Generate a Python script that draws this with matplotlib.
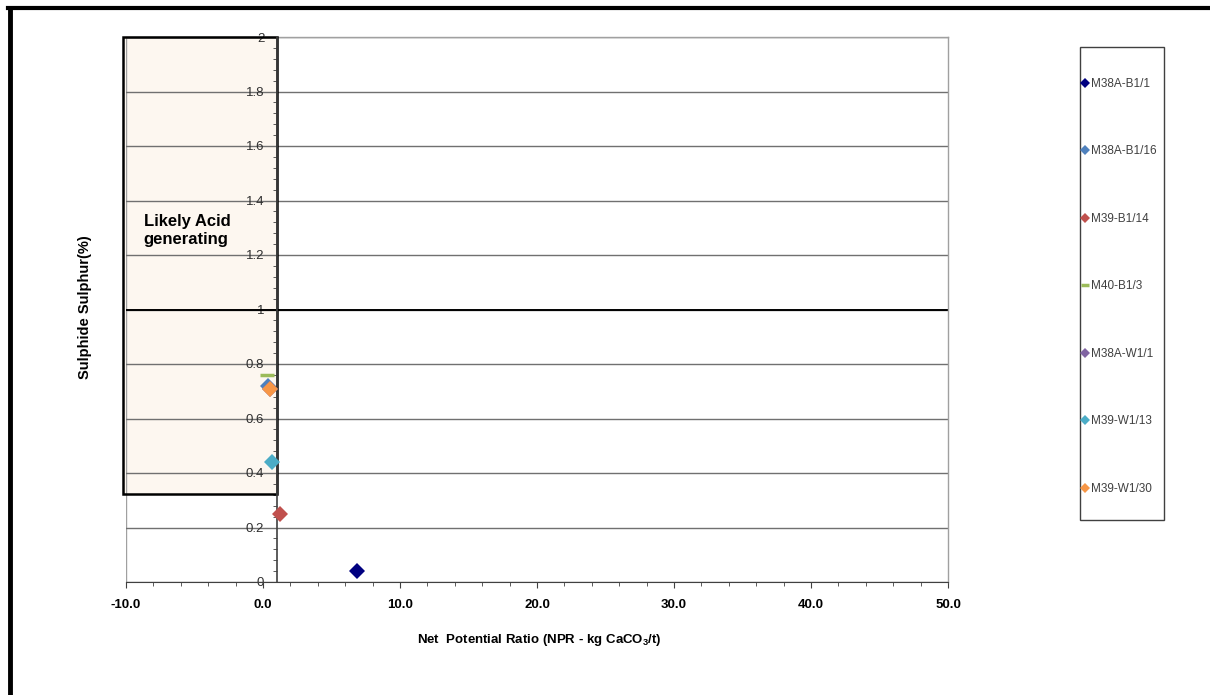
import matplotlib
matplotlib.use('Agg')
import matplotlib.pyplot as plt
from matplotlib.patches import Rectangle
from matplotlib.lines import Line2D
import numpy as np

plt.rcParams['font.family'] = ['Liberation Sans', 'DejaVu Sans']
plt.rcParams['mathtext.fontset'] = 'custom'
plt.rcParams['mathtext.rm'] = 'Liberation Sans'
plt.rcParams['mathtext.bf'] = 'Liberation Sans:bold'

# samples: NPR (kg CaCO3/t) vs sulphide sulphur (%)
names = ['M38A-B1/1', 'M38A-B1/16', 'M39-B1/14', 'M40-B1/3',
         'M38A-W1/1', 'M39-W1/13', 'M39-W1/30']
npr = [6.85, 0.35, 1.25, 0.31, 0.5, 0.63, 0.5]
sulphur = [0.04, 0.72, 0.25, 0.76, 0.71, 0.44, 0.71]
colors = ['#000080', '#4F81BD', '#C0504D', '#9BBB59',
          '#8064A2', '#4BACC6', '#F79646']
markers = ['D', 'D', 'D', '_', 'D', 'D', 'D']

x_ticks = [-10, 0, 10, 20, 30, 40, 50]
y_ticks = [0, 0.2, 0.4, 0.6, 0.8, 1, 1.2, 1.4, 1.6, 1.8, 2]
y_labels = ['0', '0.2', '0.4', '0.6', '0.8', '1', '1.2', '1.4', '1.6', '1.8', '2']

W, H = 1210, 695
fig = plt.figure(figsize=(W / 100, H / 100), dpi=100)
ax = fig.add_axes([126 / W, 1 - 582 / H, (948 - 126) / W, (582 - 37) / H])

# acid generating zone
zone_x0, zone_x1, zone_y0, zone_y1 = -10.2, 1.0, 0.323, 2.0
ax.add_patch(Rectangle((zone_x0, zone_y0), zone_x1 - zone_x0, zone_y1 - zone_y0,
                       facecolor='#FDF7F0', edgecolor='none', zorder=0.2, clip_on=False))
ax.add_patch(Rectangle((zone_x0, zone_y0), zone_x1 - zone_x0, zone_y1 - zone_y0,
                       facecolor='none', edgecolor='black', lw=1.8, zorder=4, clip_on=False))
ax.text(-8.7, 1.29, 'Likely Acid\ngenerating', fontsize=12, fontweight='bold',
        va='center', ha='left', multialignment='left', linespacing=1.25, zorder=5)

for i in range(len(names)):
    ms = 8 if markers[i] == 'D' else 10
    mew = 0 if markers[i] == 'D' else 2.5
    ax.plot(npr[i], sulphur[i], linestyle='none', marker=markers[i], color=colors[i],
            markersize=ms, markeredgewidth=mew, label=names[i], zorder=6,
            clip_on=False)

ax.set_xlim(-10, 50)
ax.set_ylim(0, 2)
ax.set_axisbelow(True)
ax.grid(axis='y', color='#707070', lw=1)
ax.axhline(1, color='black', lw=1.4, zorder=1)

for s in ['top', 'right']:
    ax.spines[s].set_color('#A0A0A0')
    ax.spines[s].set_linewidth(1)
ax.spines['left'].set_position(('data', 1))
ax.spines['left'].set_color('#404040')
ax.spines['left'].set_linewidth(1.2)
ax.spines['left'].set_zorder(5)
ax.spines['bottom'].set_color('#404040')
ax.axvline(-10, color='#A0A0A0', lw=1, zorder=0.3)

ax.set_xticks(x_ticks)
ax.set_xticklabels([f'{v:.1f}' for v in x_ticks])
ax.set_xticks(np.arange(-10, 51, 2), minor=True)
ax.set_yticks(y_ticks)
ax.set_yticklabels(y_labels)
ax.set_yticks(np.arange(0, 2.01, 0.04), minor=True)
ax.tick_params(axis='x', which='major', length=4, pad=8, labelsize=9.5, colors='#404040',
               labelcolor='black')
ax.tick_params(axis='x', which='minor', length=3, colors='#404040')
ax.tick_params(axis='y', which='major', length=0, pad=9, labelsize=9.5, labelcolor='#303030')
ax.tick_params(axis='y', which='minor', length=3, colors='#404040')
for lbl in ax.get_xticklabels():
    lbl.set_fontweight('bold')

fig.text(539 / W, 1 - 640 / H, r'Net  Potential Ratio (NPR - kg CaCO$_\mathbf{3}$/t)',
         ha='center', va='center', fontsize=9.5, fontweight='bold')
fig.text(85 / W, 1 - 307 / H, 'Sulphide Sulphur(%)', rotation=90,
         ha='center', va='center', fontsize=10.5, fontweight='bold')

# legend: entries without frame, box drawn separately
handles, labels = ax.get_legend_handles_labels()
leg = fig.legend(handles, labels, loc='upper left', bbox_to_anchor=(1082 / W, 1 - 78 / H),
                 borderaxespad=0, frameon=False, fontsize=8.5,
                 labelspacing=4.7, handlelength=0.5, handletextpad=0.25,
                 borderpad=0, markerscale=0.6)
for t in leg.get_texts():
    t.set_color('#404040')
fig.add_artist(Rectangle((1080 / W, 1 - 520 / H), (1164 - 1080) / W, (520 - 47) / H,
                         transform=fig.transFigure, facecolor='none',
                         edgecolor='#404040', lw=1))

# outer chart frame (top and left visible)
fig.add_artist(Line2D([8 / W, 1], [1 - 8 / H, 1 - 8 / H], color='black', lw=3))
fig.add_artist(Line2D([9.5 / W, 9.5 / W], [0, 1 - 8 / H], color='black', lw=3.5))

fig.savefig('out.png', dpi=100)
